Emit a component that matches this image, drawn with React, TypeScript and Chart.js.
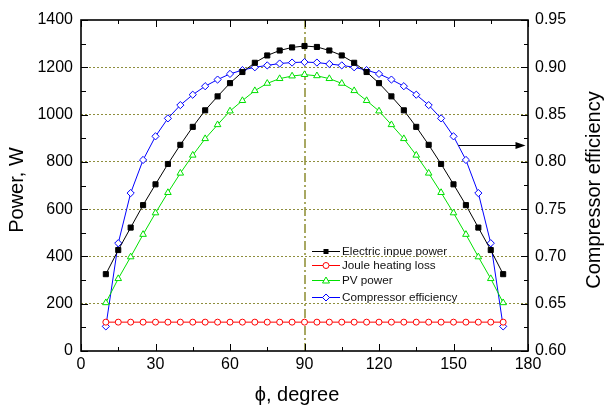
import React, { useEffect, useRef } from "react";
import { Chart, registerables } from "chart.js";

Chart.register(...registerables);

// Crank angle, degrees
const PHI = [
  10, 15, 20, 25, 30, 35, 40, 45, 50, 55, 60, 65, 70, 75, 80, 85, 90,
  95, 100, 105, 110, 115, 120, 125, 130, 135, 140, 145, 150, 155, 160, 165, 170,
];

// Electric input power, W
const ELECTRIC_INPUT = [
  325, 427, 522, 617, 705, 791, 872, 948, 1018, 1077, 1133, 1180, 1219, 1250, 1271, 1284, 1290,
  1286, 1271, 1250, 1219, 1180, 1133, 1077, 1018, 948, 872, 791, 705, 617, 522, 427, 325,
];

// Joule heating loss, W
const JOULE_LOSS = [
  122, 122, 122, 122, 122, 122, 122, 122, 122, 122, 122, 122, 122, 122, 122, 122, 122,
  122, 122, 122, 122, 122, 122, 122, 122, 122, 122, 122, 122, 122, 122, 122, 122,
];

// PV power, W
const PV_POWER = [
  204, 306, 398, 493, 584, 670, 752, 828, 898, 957, 1015, 1059, 1101, 1132, 1152, 1163, 1169,
  1164, 1152, 1132, 1101, 1059, 1015, 957, 898, 828, 752, 670, 584, 493, 398, 306, 204,
];

// Compressor efficiency (right axis)
const EFFICIENCY = [
  0.626, 0.714, 0.767, 0.802, 0.827, 0.846, 0.86, 0.871, 0.88, 0.887, 0.893, 0.897, 0.9, 0.902, 0.904, 0.905, 0.9055,
  0.905, 0.9035, 0.902, 0.9, 0.897, 0.893, 0.887, 0.88, 0.871, 0.86, 0.846, 0.827, 0.802, 0.767, 0.714, 0.626,
];

const SERIES_NAMES = [
  "Electric inpue power",
  "Joule heating loss",
  "PV power",
  "Compressor efficiency",
];

// Arrow pointing at the efficiency axis: [from phi, to phi] at an efficiency level
const ARROW_PHI = [152, 179];
const ARROW_EFF = 0.818;

const FONT = '"Liberation Sans", Arial, Helvetica, sans-serif';
const GRID_COLOR = "#8e8e3e";
const CENTER_LINE_COLOR = "#a8a862";

const pts = (ys: number[]) => PHI.map((x, i) => ({ x, y: ys[i] }));

type Marker = "square" | "circle" | "triangle" | "diamond";

function drawMarker(ctx: CanvasRenderingContext2D, m: Marker, x: number, y: number, color: string) {
  ctx.save();
  ctx.lineWidth = 1;
  ctx.strokeStyle = color;
  ctx.fillStyle = "#ffffff";
  ctx.beginPath();
  if (m === "square") {
    ctx.fillStyle = color;
    ctx.fillRect(x - 2.5, y - 2.5, 5, 5);
    ctx.restore();
    return;
  }
  if (m === "circle") ctx.arc(x, y, 3, 0, Math.PI * 2);
  if (m === "triangle") {
    ctx.moveTo(x, y - 3.5);
    ctx.lineTo(x + 3.5, y + 2.5);
    ctx.lineTo(x - 3.5, y + 2.5);
    ctx.closePath();
  }
  if (m === "diamond") {
    ctx.moveTo(x, y - 3.5);
    ctx.lineTo(x + 3.5, y);
    ctx.lineTo(x, y + 3.5);
    ctx.lineTo(x - 3.5, y);
    ctx.closePath();
  }
  ctx.fill();
  ctx.stroke();
  ctx.restore();
}

const LEGEND_MARKERS: Marker[] = ["square", "circle", "triangle", "diamond"];
const LEGEND_COLORS = ["#000000", "#ff0000", "#00e000", "#0000ff"];
const LEGEND_ROWS = [251, 265, 280, 297];

const decorations = {
  id: "decorations",
  afterDatasetsDraw(chart: any) {
    const { ctx, chartArea: a, scales } = chart;
    const sx = scales.x;
    const sy = scales.y;
    const sy1 = scales.y1;

    ctx.save();
    ctx.strokeStyle = "#000";
    ctx.lineWidth = 1;

    // inward ticks on all four sides
    ctx.beginPath();
    for (let v = 0; v <= 180; v += 15) {
      const px = Math.round(sx.getPixelForValue(v)) + 0.5;
      const len = v % 30 === 0 ? 7 : 4;
      ctx.moveTo(px, a.bottom);
      ctx.lineTo(px, a.bottom - len);
      ctx.moveTo(px, a.top);
      ctx.lineTo(px, a.top + len);
    }
    for (let v = 0; v <= 1400; v += 100) {
      const py = Math.round(sy.getPixelForValue(v)) + 0.5;
      const len = v % 200 === 0 ? 7 : 5;
      ctx.moveTo(a.left, py);
      ctx.lineTo(a.left + len, py);
    }
    for (let i = 0; i <= 14; i++) {
      const py = Math.round(sy1.getPixelForValue(0.6 + i * 0.025)) + 0.5;
      const len = i % 2 === 0 ? 7 : 4;
      ctx.moveTo(a.right, py);
      ctx.lineTo(a.right - len, py);
    }
    ctx.stroke();

    // frame
    ctx.lineWidth = 1.6;
    ctx.strokeRect(a.left, a.top, a.right - a.left, a.bottom - a.top);

    // arrow toward the right axis
    const ax0 = sx.getPixelForValue(ARROW_PHI[0]);
    const ax1 = sx.getPixelForValue(ARROW_PHI[1]);
    const ay = Math.round(sy1.getPixelForValue(ARROW_EFF)) + 0.5;
    ctx.lineWidth = 1;
    ctx.beginPath();
    ctx.moveTo(ax0, ay);
    ctx.lineTo(ax1 - 8, ay);
    ctx.stroke();
    ctx.fillStyle = "#000";
    ctx.beginPath();
    ctx.moveTo(ax1, ay);
    ctx.lineTo(ax1 - 10, ay - 3.5);
    ctx.lineTo(ax1 - 10, ay + 3.5);
    ctx.closePath();
    ctx.fill();

    // legend
    ctx.font = `11.7px ${FONT}`;
    ctx.textAlign = "left";
    ctx.textBaseline = "middle";
    SERIES_NAMES.forEach((name, i) => {
      const y = LEGEND_ROWS[i];
      ctx.strokeStyle = LEGEND_COLORS[i];
      ctx.lineWidth = 1;
      ctx.beginPath();
      ctx.moveTo(312, y + 0.5);
      ctx.lineTo(340, y + 0.5);
      ctx.stroke();
      drawMarker(ctx, LEGEND_MARKERS[i], 326, y + 0.5, LEGEND_COLORS[i]);
      ctx.fillStyle = "#111";
      ctx.fillText(name, 342, y + 1);
    });

    // axis titles
    ctx.fillStyle = "#000";
    ctx.font = `20px ${FONT}`;
    ctx.textAlign = "center";
    ctx.textBaseline = "middle";
    ctx.fillText("\u03d5, degree", 297, 395);

    ctx.save();
    ctx.translate(17, 190);
    ctx.rotate(-Math.PI / 2);
    ctx.fillText("Power, W", 0, 0);
    ctx.restore();

    ctx.save();
    ctx.translate(594, 190);
    ctx.rotate(-Math.PI / 2);
    ctx.fillText("Compressor efficiency", 0, 0);
    ctx.restore();

    ctx.restore();
  },
};

export default function App() {
  const canvasRef = useRef<HTMLCanvasElement | null>(null);

  useEffect(() => {
    const canvas = canvasRef.current;
    if (!canvas) return;
    const tickFont = { family: FONT, size: 16 };

    const chart = new Chart(canvas, {
      type: "line",
      data: {
        datasets: [
          {
            label: SERIES_NAMES[0],
            data: pts(ELECTRIC_INPUT),
            yAxisID: "y",
            borderColor: "#000000",
            backgroundColor: "#000000",
            borderWidth: 1,
            pointStyle: "rect",
            pointRadius: 3.6,
            pointBorderWidth: 1,
          },
          {
            label: SERIES_NAMES[1],
            data: pts(JOULE_LOSS),
            yAxisID: "y",
            borderColor: "#ff0000",
            backgroundColor: "#ffffff",
            borderWidth: 1,
            pointStyle: "circle",
            pointRadius: 3,
            pointBorderWidth: 1,
          },
          {
            label: SERIES_NAMES[2],
            data: pts(PV_POWER),
            yAxisID: "y",
            borderColor: "#00e000",
            backgroundColor: "#ffffff",
            borderWidth: 1,
            pointStyle: "triangle",
            pointRadius: 3.8,
            pointBorderWidth: 1,
          },
          {
            label: SERIES_NAMES[3],
            data: pts(EFFICIENCY),
            yAxisID: "y1",
            borderColor: "#0000ff",
            backgroundColor: "#ffffff",
            borderWidth: 1,
            pointStyle: "rectRot",
            pointRadius: 3.6,
            pointBorderWidth: 1,
          },
        ],
      },
      options: {
        animation: false,
        responsive: false,
        maintainAspectRatio: false,
        devicePixelRatio: 1,
        layout: { padding: { top: 20, left: 0, right: 0, bottom: 0 } },
        elements: { line: { tension: 0 } },
        plugins: {
          legend: { display: false },
          tooltip: { enabled: false },
        },
        scales: {
          x: {
            type: "linear",
            min: 0,
            max: 180,
            ticks: {
              stepSize: 30,
              font: tickFont,
              color: "#000",
              padding: 4,
              maxRotation: 0,
              callback: (v: any) => String(v),
            },
            grid: {
              color: (c: any) => (c.tick && c.tick.value === 90 ? CENTER_LINE_COLOR : "transparent"),
              lineWidth: 2,
              drawTicks: false,
            },
            border: { display: false, dash: [9, 3, 2, 3] },
            afterFit: (s: any) => {
              s.height = 56;
            },
          },
          y: {
            type: "linear",
            position: "left",
            min: 0,
            max: 1400,
            ticks: {
              stepSize: 200,
              font: tickFont,
              color: "#000",
              padding: 8,
              callback: (v: any) => String(v),
            },
            grid: {
              color: (c: any) =>
                c.tick && (c.tick.value === 0 || c.tick.value === 1400) ? "transparent" : GRID_COLOR,
              lineWidth: 1,
              drawTicks: false,
            },
            border: { display: false, dash: [2, 2] },
            afterFit: (s: any) => {
              s.width = 81;
            },
          },
          y1: {
            type: "linear",
            position: "right",
            min: 0.6,
            max: 0.95,
            ticks: {
              stepSize: 0.05,
              font: tickFont,
              color: "#000",
              padding: 7,
              callback: (v: any) => Number(v).toFixed(2),
            },
            grid: { display: false, drawTicks: false },
            border: { display: false },
            afterFit: (s: any) => {
              s.width = 76;
            },
          },
        },
      },
      plugins: [decorations],
    } as any);

    return () => chart.destroy();
  }, []);

  return (
    <div style={{ position: "fixed", left: 0, top: 0, width: 604, height: 407, background: "#fff" }}>
      <canvas ref={canvasRef} width={604} height={407} style={{ display: "block" }} />
    </div>
  );
}
